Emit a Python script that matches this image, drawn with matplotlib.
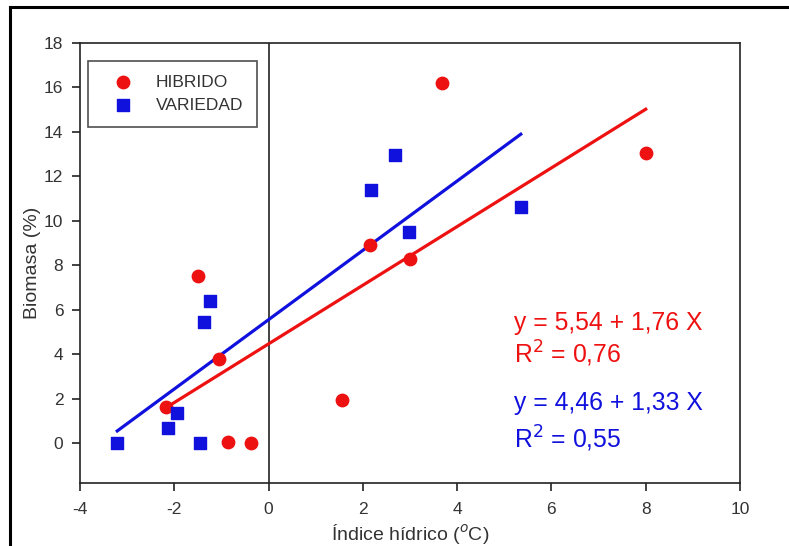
import matplotlib
matplotlib.use('Agg')
import matplotlib.pyplot as plt
from matplotlib.lines import Line2D

plt.rcParams['font.family'] = ['Liberation Sans', 'DejaVu Sans']
plt.rcParams['axes.unicode_minus'] = False

# data
hib_x = [-2.18, -1.5, -1.05, -0.85, -0.38, 1.55, 2.15, 3.0, 3.67, 8.0]
hib_y = [1.63, 7.5, 3.8, 0.03, 0.0, 1.95, 8.9, 8.3, 16.2, 13.05]
var_x = [-3.21, -2.13, -1.94, -1.46, -1.37, -1.24, 2.18, 2.68, 2.98, 5.35]
var_y = [0.0, 0.69, 1.34, 0.0, 5.46, 6.4, 11.39, 12.95, 9.5, 10.6]

# fitted lines as drawn (intercept, slope)
hib_fit = (4.46, 1.32)
var_fit = (5.55, 1.56)

hib_eq = ['y = 5,54 + 1,76 X', 'R$^2$ = 0,76']
var_eq = ['y = 4,46 + 1,33 X', 'R$^2$ = 0,55']

fig = plt.figure(figsize=(7.89, 5.46), dpi=100)
ax = fig.add_axes([80/789, 1 - 483/546, 660/789, 440/546])

# regression lines
hx = [min(hib_x) + 0.05, max(hib_x)]
ax.plot(hx, [hib_fit[0] + hib_fit[1]*v for v in hx], color='#ee1111', lw=2.3, zorder=2)
vx = [min(var_x), max(var_x)]
ax.plot(vx, [var_fit[0] + var_fit[1]*v for v in vx], color='#1111dd', lw=2.3, zorder=2)

ax.scatter(hib_x, hib_y, s=80, marker='o', color='#ee1111', label='HIBRIDO', zorder=3)
ax.scatter(var_x, var_y, s=65, marker='s', color='#1111dd', label='VARIEDAD', zorder=3)

ax.axvline(0, color='#222222', lw=1.2, zorder=1)

ax.set_xlim(-4, 10)
ax.set_ylim(-1.8, 18)
ax.set_xticks(range(-4, 11, 2))
ax.set_yticks(range(0, 19, 2))
ax.tick_params(direction='out', length=6, width=1.2, labelsize=12.5, labelcolor='#333333',
               color='#222222')
ax.tick_params(axis='x', pad=8)
ax.tick_params(axis='y', pad=6)
for s in ax.spines.values():
    s.set_linewidth(1.2)
    s.set_color('#222222')

ax.set_xlabel('Índice hídrico ($^{o}$C)', fontsize=14, color='#333333', labelpad=3)
ax.set_ylabel('Biomasa (%)', fontsize=14, color='#333333', labelpad=2)

leg = ax.legend(loc='upper left', bbox_to_anchor=(8/660, 1 - 18/440), fancybox=False,
                edgecolor='#222222', fontsize=12.5, handletextpad=0.7, borderpad=0.8,
                labelspacing=0.45, borderaxespad=0, handlelength=2.4)
leg.get_frame().set_linewidth(1.2)
for t in leg.get_texts():
    t.set_color('#333333')

ax.text(5.2, 5.4, hib_eq[0], color='#ee1111', fontsize=17.8, va='center')
ax.text(5.2, 4.0, hib_eq[1], color='#ee1111', fontsize=17.8, va='center')
ax.text(5.2, 1.8, var_eq[0], color='#1111dd', fontsize=17.8, va='center')
ax.text(5.2, 0.2, var_eq[1], color='#1111dd', fontsize=17.8, va='center')

# outer frame of the original figure
fig.add_artist(Line2D([10/789, 1], [1 - 7/546, 1 - 7/546], color='black', lw=2.2,
                      transform=fig.transFigure))
fig.add_artist(Line2D([10/789, 10/789], [0, 1 - 7/546], color='black', lw=2.2,
                      transform=fig.transFigure))

fig.savefig('out.png', dpi=100)
